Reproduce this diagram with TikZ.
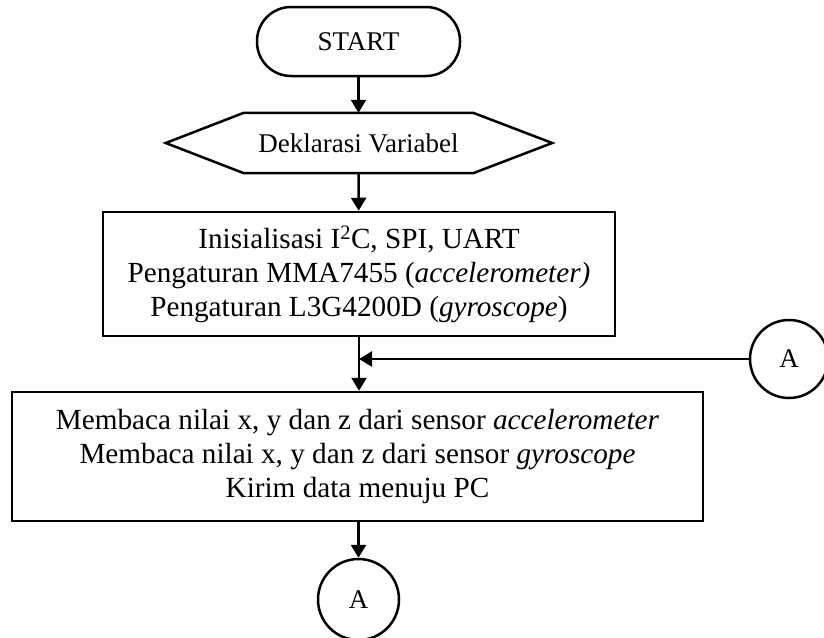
\documentclass[tikz,border=0pt]{standalone}
\usepackage{fontspec}
\setmainfont{Liberation Serif}
\usetikzlibrary{arrows.meta,calc}
\begin{document}
\begin{tikzpicture}[x=1pt,y=-1pt,
  every node/.style={font=\fontsize{27}{34}\selectfont, align=center, inner sep=0pt},
  bigtext/.style={font=\fontsize{29.2}{34}\selectfont},
  ln/.style={line width=2.5pt},
  arr/.style={ln, -{Triangle[length=13pt,width=15pt]}},
  terminal/.style={ln, draw, rectangle, rounded corners=34pt, minimum width=203pt, minimum height=69pt},
  procbox/.style={ln, draw, rectangle, bigtext},
  conn/.style={ln, draw, circle}
]
\useasboundingbox (0,0) rectangle (824,637);
\node[terminal] (start) at (358.5,41.5) {START};
\node[minimum width=229pt, minimum height=60pt] (hex) at (358.5,143) {Deklarasi Variabel};
\draw[ln, line join=miter] (hex.north west) -- (hex.north east) -- ([xshift=79pt]hex.east) -- (hex.south east) -- (hex.south west) -- ([xshift=-78pt]hex.west) -- cycle;
\node[procbox, minimum width=512pt, minimum height=124pt] (init) at (359,274)
  {Inisialisasi I\textsuperscript{2}C, SPI, UART\\Pengaturan MMA7455 (\textit{accelerometer)}\\Pengaturan L3G4200D (\textit{gyroscope})};
\node[procbox, minimum width=691pt, minimum height=129pt] (read) at (357.5,456.5)
  {Membaca nilai x, y dan z dari sensor \textit{accelerometer}\\Membaca nilai x, y dan z dari sensor \textit{gyroscope}\\Kirim data menuju PC};
\node[conn, minimum size=78pt] (ca) at (789,359) {A};
\node[conn, minimum size=81pt] (cb) at (358.5,599.5) {A};
\coordinate (j) at (init.south |- ca.west);
\draw[arr] (start) -- (hex.north);
\draw[arr] (hex.south) -- (init);
\draw[arr] (init.south) -- (read.north -| init.south);
\draw[arr] (ca) -- (j);
\draw[arr] (read.south -| cb.north) -- (cb);
\end{tikzpicture}
\end{document}
